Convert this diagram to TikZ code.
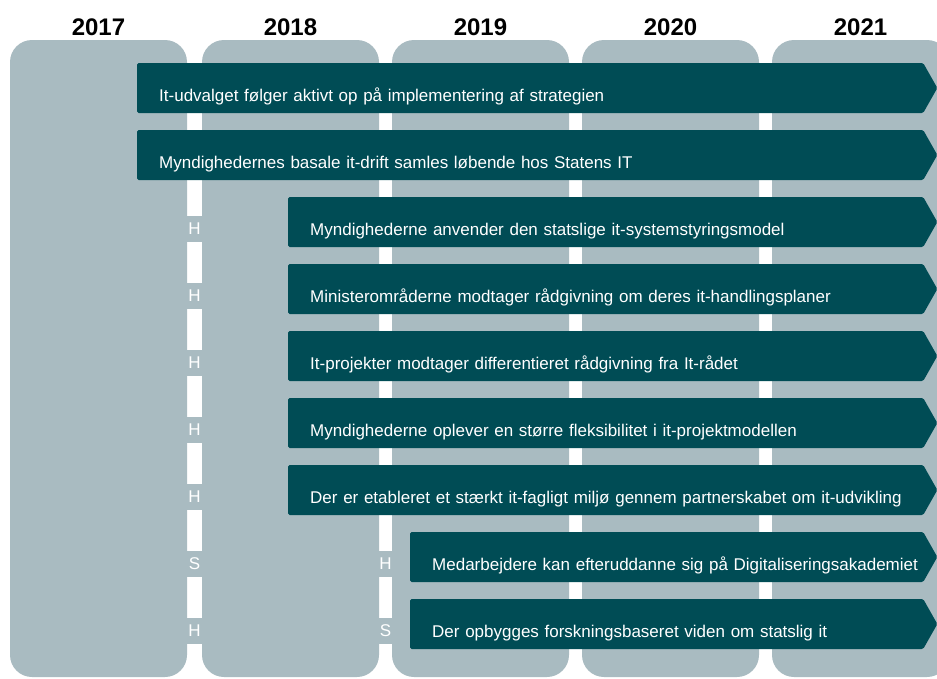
\documentclass[tikz,border=0pt]{standalone}
\usepackage{fontspec}
\setmainfont{Liberation Sans}
\usepackage{tikz}
\usetikzlibrary{shapes.symbols}
\definecolor{kolonne}{RGB}{169, 187, 193}
\definecolor{pilfarve}{RGB}{0, 76, 85}

\begin{document}
\begin{tikzpicture}[x=1pt, y=-1pt,
    aar/.style={font=\fontsize{24}{28}\selectfont\bfseries},
    kol/.style={fill=kolonne, rounded corners=22pt},
    pil/.style={signal, signal to=east, signal pointer angle=121, fill=pilfarve, text=white, minimum height=50pt, inner xsep=22pt, text height=26pt, text depth=0pt, align=left, anchor=west, rounded corners=1.5pt, font=\fontsize{17}{20}\selectfont},
    bogstav/.style={fill=kolonne, text=white, minimum width=15pt, minimum height=26pt, inner sep=0pt, font=\fontsize{17}{20}\selectfont}]
    \useasboundingbox (0,0) rectangle (937,678);

    % Kolonner med årstal
    \foreach \x/\aar in {10/2017, 202/2018, 392/2019, 582/2020, 772/2021} {
        \fill[kol] (\x,40) rectangle (\x+177,677);
        \node[aar] (a\aar) at (\x+88.5,27) {\aar};
    }

    % Bogstaver i mellemrummene
    \node[bogstav] (h3) at (194.5,229) {H};
    \node[bogstav] (h4) at (194.5,296) {H};
    \node[bogstav] (h5) at (194.5,363) {H};
    \node[bogstav] (h6) at (194.5,430) {H};
    \node[bogstav] (h7) at (194.5,497) {H};
    \node[bogstav] (s8) at (194.5,564) {S};
    \node[bogstav] (h9) at (194.5,631) {H};
    \node[bogstav] (hh8) at (385.5,564) {H};
    \node[bogstav] (ss9) at (385.5,631) {S};

    % Pile (teksten må gerne gå ind i spidsen)
    \node[pil, text width=742pt] (p1) at (137,88) {It-udvalget følger aktivt op på implementering af strategien};
    \node[pil, text width=742pt] (p2) at (137,155) {Myndighedernes basale it-drift samles løbende hos Statens IT};
    \node[pil, text width=591pt] (p3) at (288,222) {Myndighederne anvender den statslige it-systemstyringsmodel};
    \node[pil, text width=591pt] (p4) at (288,289) {Ministerområderne modtager rådgivning om deres it-handlingsplaner};
    \node[pil, text width=591pt] (p5) at (288,356) {It-projekter modtager differentieret rådgivning fra It-rådet};
    \node[pil, text width=591pt] (p6) at (288,423) {Myndighederne oplever en større fleksibilitet i it-projektmodellen};
    \node[pil, text width=591pt] (p7) at (288,490) {\mbox{Der er etableret et stærkt it-fagligt miljø gennem partnerskabet om it-udvikling}};
    \node[pil, text width=469pt] (p8) at (410,557) {\mbox{Medarbejdere kan efteruddanne sig på Digitaliseringsakademiet}};
    \node[pil, text width=469pt] (p9) at (410,624) {Der opbygges forskningsbaseret viden om statslig it};
\end{tikzpicture}
\end{document}
